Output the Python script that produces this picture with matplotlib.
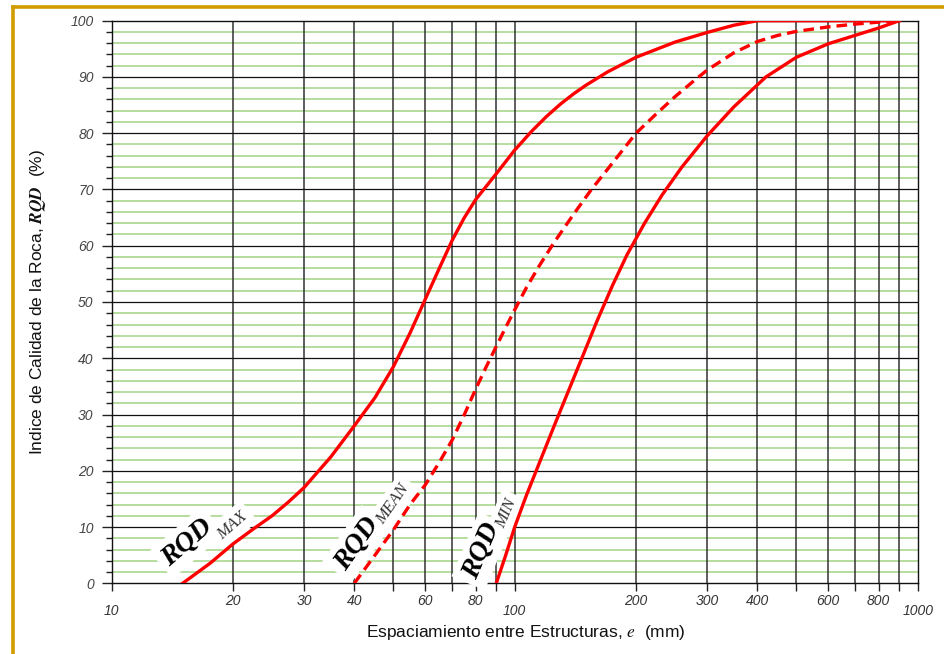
import numpy as np
import matplotlib
matplotlib.use("Agg")
import matplotlib.pyplot as plt
from matplotlib.lines import Line2D

plt.rcParams['font.family'] = ['Liberation Sans', 'DejaVu Sans']
plt.rcParams['mathtext.fontset'] = 'stix'

# RQD curves (spacing in mm, RQD in %)
max_e = [15, 17.5, 20, 22.5, 25, 27.5, 30, 35, 40, 45, 50, 55, 60, 65, 70, 75, 80, 90,
         100, 110, 120, 130, 140, 150, 170, 200, 250, 300, 350, 400, 900]
max_rqd = [0, 3.5, 7, 9.7, 12, 14.5, 17, 22.5, 28, 33, 38.5, 44.5, 50.5, 56, 61, 65, 68.2, 72.8,
           77, 80.3, 83, 85.2, 87, 88.5, 90.9, 93.5, 96.2, 97.9, 99.2, 100, 100]

mean_e = [40, 45, 50, 55, 60, 65, 70, 75, 80, 85, 90, 95, 100, 107, 115, 125, 140, 155, 170,
          200, 225, 250, 275, 300, 350, 400, 450, 500, 600, 700, 800, 900]
mean_rqd = [0, 5, 9.5, 14, 17.5, 21.5, 25.5, 30, 34.5, 38.5, 42.1, 45.5, 48.6, 52.6, 56.4, 60.5,
            65.6, 70, 73.6, 80, 83.5, 86.5, 89, 91.2, 94.3, 96.3, 97.4, 98.1, 98.9, 99.4, 99.75, 100]

min_e = [90, 95, 100, 107, 125, 145, 160, 175, 190, 210, 232, 260, 300, 350, 420, 500,
         600, 700, 800, 900]
min_rqd = [0, 5, 10, 15.7, 27.8, 39.1, 46.6, 53, 58.4, 64, 69, 74, 79.5, 84.7, 90, 93.5,
           95.9, 97.4, 98.7, 100]

x_labels = ['10', '20', '30', '40', '60', '80', '100', '200', '300', '400', '600', '800', '1000']
y_labels = ['0', '10', '20', '30', '40', '50', '60', '70', '80', '90', '100']

fig = plt.figure(figsize=(9.44, 6.54), dpi=100)
ax = fig.add_axes([111.7 / 944, 1 - 583.3 / 654, 806 / 944, 562.6 / 654])
ax.set_xscale('log')
ax.set_xlim(10, 1000)
ax.set_ylim(0, 100)

# grid: green every 2 %, black every 10 %, dark verticals on the log decades
for v in range(2, 100, 2):
    if v % 10:
        ax.axhline(v, color='#a3d384', lw=1.1, zorder=1)
for v in range(10, 100, 10):
    ax.axhline(v, color='#111111', lw=0.9, zorder=1.6)
vlines = [m * d for d in (10, 100) for m in range(2, 10)] + [100]
for v in vlines:
    ax.axvline(v, color='#333333', lw=1.1, zorder=1.5)

ax.plot(max_e, max_rqd, color='#ff0000', lw=2.4, zorder=5, solid_joinstyle='round')
ax.plot(mean_e, mean_rqd, color='#ff0000', lw=2.4, zorder=5, dashes=(3.2, 1.8))
ax.plot(min_e, min_rqd, color='#ff0000', lw=2.4, zorder=5, solid_joinstyle='round')

for s in ax.spines.values():
    s.set_color('#111111')
    s.set_linewidth(1.0)

# ticks
xt = [m * d for d in (10, 100) for m in range(1, 10)] + [1000]
ax.set_xticks(xt)
ax.set_xticklabels([])
ax.xaxis.set_minor_locator(matplotlib.ticker.NullLocator())
ax.tick_params(axis='x', which='major', direction='out', length=6, width=1, color='#222222')
for lab in x_labels:
    val = float(lab)
    drop = 20 if lab in ('10', '100', '1000') else 13
    ax.annotate(lab, xy=(val, 0), xycoords=('data', 'axes fraction'),
                xytext=(0, -drop), textcoords='offset points', ha='center', va='center',
                fontsize=10, style='italic', color='#333333')

ax.set_yticks(range(0, 101, 10))
ax.set_yticklabels(y_labels, fontsize=10, style='italic', color='#444444')
ax.set_yticks([v for v in range(2, 100, 2) if v % 10], minor=True)
ax.tick_params(axis='y', which='major', direction='out', length=7, width=1, pad=6, color='#222222')
ax.tick_params(axis='y', which='minor', direction='out', length=4, width=1, color='#222222')

# curve names: white patch first, then the letters on top of it
serif = ['Liberation Serif', 'DejaVu Serif']
def curve_name(x, y, text, angle, size, bold, color):
    kw = dict(family=serif, style='italic', weight='bold' if bold else 'normal',
              fontsize=size, ha='center', va='center', rotation=angle, rotation_mode='anchor')
    ax.text(x, y, text, color='none', zorder=3,
            bbox=dict(facecolor='white', edgecolor='none', pad=4), **kw)
    ax.text(x, y, text, color=color, zorder=3.5, **kw)

curve_name(15.4, 7.3, 'RQD', 41, 20, True, 'black')
curve_name(19.9, 10.3, 'MAX', 41, 12, False, '#333333')
curve_name(40.5, 7.0, 'RQD', 55, 20, True, 'black')
curve_name(50.0, 14.0, 'MEAN', 55, 12, False, '#333333')
curve_name(82.8, 5.7, 'RQD', 67, 20, True, 'black')
curve_name(95.6, 12.4, 'MIN', 67, 12, False, '#333333')

fig.text(526 / 944, 1 - 633 / 654, r'Espaciamiento entre Estructuras, $\mathit{e}$  (mm)',
         ha='center', va='center', fontsize=12.5, color='#111111')
fig.text(38 / 944, 1 - 302 / 654, r'Indice de Calidad de la Roca, $\mathbfit{RQD}$  (%)',
         ha='center', va='center', rotation=90, fontsize=12.5, color='#111111')

# golden frame around the slide
gold = '#d09c00'
fig.add_artist(Line2D([13 / 944, 1], [1 - 6.5 / 654, 1 - 6.5 / 654], color=gold, lw=2.6))
fig.add_artist(Line2D([13 / 944, 13 / 944], [0, 1 - 6.5 / 654], color=gold, lw=2.6))

fig.savefig('out.png', dpi=100, facecolor='white')
